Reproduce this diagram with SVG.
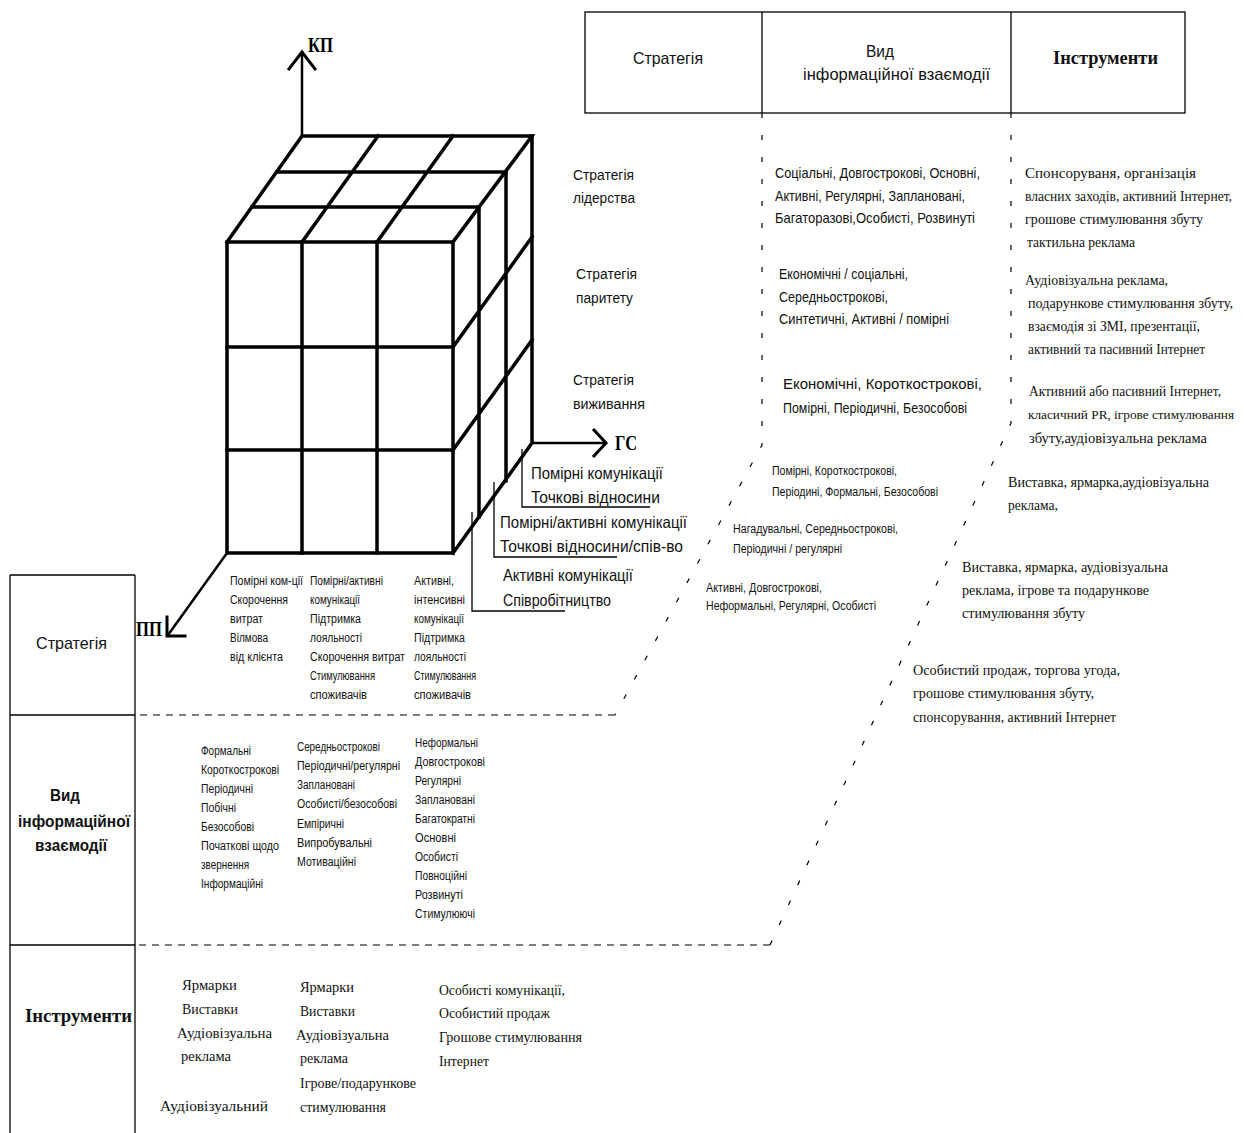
<svg xmlns="http://www.w3.org/2000/svg" width="1244" height="1133" viewBox="0 0 1244 1133">
<style>
.bg{fill:#fff}
.cube{stroke:#000;stroke-width:3.5;fill:none;stroke-linecap:square;stroke-linejoin:miter}
.axis{stroke:#000;stroke-width:2.5;fill:none}
.arr{stroke:#000;stroke-width:3;fill:none;stroke-linecap:square}
.br{stroke:#000;stroke-width:1.3;fill:none}
.tbl{stroke:#000;stroke-width:1.3;fill:none}
.dh{stroke:#000;stroke-width:1.2;fill:none;stroke-dasharray:7 6}
.ds{stroke:#000;stroke-width:1.2;fill:none;stroke-dasharray:5 17}
.sn{font-family:"Liberation Sans",Arial,sans-serif;fill:#111}
.sr{font-family:"Liberation Serif","Times New Roman",serif;fill:#111}
.ax{font-family:"Liberation Serif","Times New Roman",serif;font-weight:bold;fill:#000;font-size:20px}
.s15{font-size:15.5px}
.s14{font-size:14.5px}
.s12{font-size:12.5px}
.s11{font-size:12px}
.s16{font-size:16.5px}
.r14{font-size:14.5px}
</style>
<rect class="bg" width="1244" height="1133"/>

<g id="header">
<rect class="tbl" x="585" y="12" width="600" height="101"/>
<line class="tbl" x1="762" y1="12" x2="762" y2="113"/>
<line class="tbl" x1="1011" y1="12" x2="1011" y2="113"/>
<text class="sn" x="633" y="64" font-size="17" textLength="70" lengthAdjust="spacingAndGlyphs">Стратегія</text>
<text class="sn" x="866" y="57" font-size="17" textLength="28" lengthAdjust="spacingAndGlyphs">Вид</text>
<text class="sn" x="803" y="80" font-size="17" textLength="187" lengthAdjust="spacingAndGlyphs">інформаційної взаємодії</text>
<text class="sr" x="1053" y="64" font-size="19" font-weight="bold" textLength="105" lengthAdjust="spacingAndGlyphs">Інструменти</text>
</g>

<g id="left-table">
<line class="tbl" x1="10" y1="575" x2="10" y2="1133"/>
<line class="tbl" x1="135" y1="575" x2="135" y2="1133"/>
<line class="tbl" x1="10" y1="575" x2="135" y2="575"/>
<line class="tbl" x1="10" y1="715" x2="135" y2="715"/>
<line class="tbl" x1="10" y1="945" x2="135" y2="945"/>
<text class="sn" x="36" y="649" font-size="17" textLength="71" lengthAdjust="spacingAndGlyphs">Стратегія</text>
<text class="sn" x="50" y="801" font-size="17" font-weight="bold" textLength="30" lengthAdjust="spacingAndGlyphs">Вид</text>
<text class="sn" x="18" y="827" font-size="17" font-weight="bold" textLength="112" lengthAdjust="spacingAndGlyphs">інформаційної</text>
<text class="sn" x="35" y="851" font-size="17" font-weight="bold" textLength="72" lengthAdjust="spacingAndGlyphs">взаємодії</text>
<text class="sr" x="25" y="1022" font-size="19" font-weight="bold" textLength="107" lengthAdjust="spacingAndGlyphs">Інструменти</text>
</g>

<g id="connectors">
<path class="ds" d="M762,113 V445 L615,715"/>
<path class="dh" d="M615,715 H135"/>
<path class="ds" d="M1011,113 V423 L770,945"/>
<path class="dh" d="M770,945 H135"/>
</g>

<g id="cube">
<path class="cube" d="M227,242 H453 V553 H227 Z"/>
<path class="cube" d="M302,242 V553 M377,242 V553 M227,347 H453 M227,450 H453"/>
<path class="cube" d="M227,242 L302,136 H532 L453,242"/>
<path class="cube" d="M252,207 H479 M277,172 H506 M302,242 L378,136 M377,242 L453,136"/>
<path class="cube" d="M532,136 V443 L453,553"/>
<path class="cube" d="M479,207 V517 M506,172 V481 M453,347 L532,237 M453,450 L532,340"/>
</g>

<g id="axes">
<line class="axis" x1="302" y1="136" x2="302" y2="52"/>
<path class="arr" d="M289,69 L302,52 L315,69"/>
<text class="ax" x="308" y="52" textLength="25" lengthAdjust="spacingAndGlyphs">КП</text>
<line class="axis" x1="532" y1="443" x2="605" y2="443"/>
<path class="arr" d="M594,430 L606,443 L594,456"/>
<text class="ax" x="615" y="450" textLength="22" lengthAdjust="spacingAndGlyphs">ГС</text>
<line class="axis" x1="227" y1="553" x2="168" y2="635"/>
<path class="arr" d="M167,617 V636 H185"/>
<text class="ax" x="136" y="636" textLength="26" lengthAdjust="spacingAndGlyphs">ПП</text>
</g>

<g id="cube-brackets">
<path class="br" d="M522,449 V507 H650"/>
<path class="br" d="M494,482 V557 H617"/>
<path class="br" d="M472,512 V611 H565"/>
<text class="sn s16" x="531" y="479" textLength="132" lengthAdjust="spacingAndGlyphs">Помірні комунікації</text>
<text class="sn s16" x="531" y="503" textLength="129" lengthAdjust="spacingAndGlyphs">Точкові  відносини</text>
<text class="sn s16" x="500" y="528" textLength="187" lengthAdjust="spacingAndGlyphs">Помірні/активні комунікації</text>
<text class="sn s16" x="500" y="552" textLength="183" lengthAdjust="spacingAndGlyphs">Точкові відносини/спів-во</text>
<text class="sn s16" x="503" y="581" textLength="130" lengthAdjust="spacingAndGlyphs">Активні комунікації</text>
<text class="sn s16" x="503" y="606" textLength="108" lengthAdjust="spacingAndGlyphs">Співробітництво</text>
</g>

<g id="strategy-labels">
<text class="sn s15" x="573" y="180" textLength="61" lengthAdjust="spacingAndGlyphs">Стратегія</text>
<text class="sn s15" x="573" y="203" textLength="62" lengthAdjust="spacingAndGlyphs">лідерства</text>
<text class="sn s15" x="576" y="279" textLength="61" lengthAdjust="spacingAndGlyphs">Стратегія</text>
<text class="sn s15" x="576" y="303" textLength="57" lengthAdjust="spacingAndGlyphs">паритету</text>
<text class="sn s15" x="573" y="385" textLength="61" lengthAdjust="spacingAndGlyphs">Стратегія</text>
<text class="sn s15" x="573" y="409" textLength="72" lengthAdjust="spacingAndGlyphs">виживання</text>
</g>

<g id="interaction-types">
<text class="sn s14" x="775" y="178" textLength="205" lengthAdjust="spacingAndGlyphs">Соціальні, Довгострокові, Основні,</text>
<text class="sn s14" x="775" y="201" textLength="190" lengthAdjust="spacingAndGlyphs">Активні, Регулярні, Заплановані,</text>
<text class="sn s14" x="775" y="223" textLength="200" lengthAdjust="spacingAndGlyphs">Багаторазові,Особисті, Розвинуті</text>
<text class="sn s14" x="779" y="279" textLength="129" lengthAdjust="spacingAndGlyphs">Економічні / соціальні,</text>
<text class="sn s14" x="779" y="302" textLength="109" lengthAdjust="spacingAndGlyphs">Середньострокові,</text>
<text class="sn s14" x="779" y="324" textLength="170" lengthAdjust="spacingAndGlyphs">Синтетичні, Активні / помірні</text>
<text class="sn s14" x="783" y="389" textLength="199" lengthAdjust="spacingAndGlyphs">Економічні, Короткострокові,</text>
<text class="sn s14" x="783" y="413" textLength="184" lengthAdjust="spacingAndGlyphs">Помірні, Періодичні, Безособові</text>
<text class="sn s12" x="772" y="475" textLength="125" lengthAdjust="spacingAndGlyphs">Помірні, Короткострокові,</text>
<text class="sn s12" x="772" y="496" textLength="166" lengthAdjust="spacingAndGlyphs">Періодині, Формальні, Безособові</text>
<text class="sn s12" x="733" y="533" textLength="165" lengthAdjust="spacingAndGlyphs">Нагадувальні, Середньострокові,</text>
<text class="sn s12" x="733" y="553" textLength="109" lengthAdjust="spacingAndGlyphs">Періодичні / регулярні</text>
<text class="sn s12" x="706" y="592" textLength="116" lengthAdjust="spacingAndGlyphs">Активні, Довгострокові,</text>
<text class="sn s12" x="706" y="610" textLength="170" lengthAdjust="spacingAndGlyphs">Неформальні, Регулярні, Особисті</text>
</g>

<g id="instruments-right">
<text class="sr r14" x="1025" y="178" textLength="171" lengthAdjust="spacingAndGlyphs">Спонсоруваня, організація</text>
<text class="sr r14" x="1025" y="201" textLength="207" lengthAdjust="spacingAndGlyphs">власних заходів, активний Інтернет,</text>
<text class="sr r14" x="1025" y="224" textLength="178" lengthAdjust="spacingAndGlyphs">грошове стимулювання збуту</text>
<text class="sr r14" x="1027" y="247" textLength="108" lengthAdjust="spacingAndGlyphs">тактильна реклама</text>
<text class="sr" x="1025" y="285" font-size="15.5" textLength="143" lengthAdjust="spacingAndGlyphs">Аудіовізуальна реклама,</text>
<text class="sr r14" x="1028" y="308" textLength="205" lengthAdjust="spacingAndGlyphs">подарункове стимулювання збуту,</text>
<text class="sr r14" x="1028" y="331" textLength="172" lengthAdjust="spacingAndGlyphs">взаємодія зі ЗМІ, презентації,</text>
<text class="sr r14" x="1028" y="354" textLength="177" lengthAdjust="spacingAndGlyphs">активний та пасивний Інтернет</text>
<text class="sr r14" x="1029" y="396" textLength="192" lengthAdjust="spacingAndGlyphs">Активний або пасивний Інтернет,</text>
<text class="sr" x="1028" y="419" font-size="13.2" textLength="206" lengthAdjust="spacingAndGlyphs">класичний PR, ігрове стимулювання</text>
<text class="sr r14" x="1029" y="443" textLength="178" lengthAdjust="spacingAndGlyphs">збуту,аудіовізуальна реклама</text>
<text class="sr r14" x="1008" y="487" textLength="201" lengthAdjust="spacingAndGlyphs">Виставка, ярмарка,аудіовізуальна</text>
<text class="sr r14" x="1008" y="510" textLength="50" lengthAdjust="spacingAndGlyphs">реклама,</text>
<text class="sr r14" x="962" y="572" textLength="206" lengthAdjust="spacingAndGlyphs">Виставка, ярмарка, аудіовізуальна</text>
<text class="sr r14" x="962" y="595" textLength="187" lengthAdjust="spacingAndGlyphs">реклама, ігрове та подарункове</text>
<text class="sr r14" x="962" y="618" textLength="123" lengthAdjust="spacingAndGlyphs">стимулювання збуту</text>
<text class="sr r14" x="913" y="675" textLength="207" lengthAdjust="spacingAndGlyphs">Особистий продаж, торгова угода,</text>
<text class="sr r14" x="913" y="698" textLength="181" lengthAdjust="spacingAndGlyphs">грошове стимулювання збуту,</text>
<text class="sr r14" x="913" y="722" textLength="203" lengthAdjust="spacingAndGlyphs">спонсорування, активний Інтернет</text>
</g>

<g id="strategy-row">
<text class="sn s11" x="230" y="585" textLength="73" lengthAdjust="spacingAndGlyphs">Помірні ком-ції</text>
<text class="sn s11" x="230" y="604" textLength="58" lengthAdjust="spacingAndGlyphs">Скорочення</text>
<text class="sn s11" x="230" y="623" textLength="33" lengthAdjust="spacingAndGlyphs">витрат</text>
<text class="sn s11" x="230" y="642" textLength="38" lengthAdjust="spacingAndGlyphs">Вілмова</text>
<text class="sn s11" x="230" y="661" textLength="53" lengthAdjust="spacingAndGlyphs">від клієнта</text>
<text class="sn s11" x="310" y="585" textLength="73" lengthAdjust="spacingAndGlyphs">Помірні/активні</text>
<text class="sn s11" x="310" y="604" textLength="50" lengthAdjust="spacingAndGlyphs">комунікації</text>
<text class="sn s11" x="310" y="623" textLength="51" lengthAdjust="spacingAndGlyphs">Підтримка</text>
<text class="sn s11" x="310" y="642" textLength="52" lengthAdjust="spacingAndGlyphs">лояльності</text>
<text class="sn s11" x="310" y="661" textLength="95" lengthAdjust="spacingAndGlyphs">Скорочення витрат</text>
<text class="sn s11" x="310" y="680" textLength="65" lengthAdjust="spacingAndGlyphs">Стимулювання</text>
<text class="sn s11" x="310" y="699" textLength="57" lengthAdjust="spacingAndGlyphs">споживачів</text>
<text class="sn s11" x="414" y="585" textLength="40" lengthAdjust="spacingAndGlyphs">Активні,</text>
<text class="sn s11" x="414" y="604" textLength="51" lengthAdjust="spacingAndGlyphs">інтенсивні</text>
<text class="sn s11" x="414" y="623" textLength="50" lengthAdjust="spacingAndGlyphs">комунікації</text>
<text class="sn s11" x="414" y="642" textLength="51" lengthAdjust="spacingAndGlyphs">Підтримка</text>
<text class="sn s11" x="414" y="661" textLength="52" lengthAdjust="spacingAndGlyphs">лояльності</text>
<text class="sn s11" x="414" y="680" textLength="62" lengthAdjust="spacingAndGlyphs">Стимулювання</text>
<text class="sn s11" x="414" y="699" textLength="57" lengthAdjust="spacingAndGlyphs">споживачів</text>
</g>

<g id="interaction-row">
<text class="sn s11" x="201" y="755" textLength="50" lengthAdjust="spacingAndGlyphs">Формальні</text>
<text class="sn s11" x="201" y="774" textLength="78" lengthAdjust="spacingAndGlyphs">Короткострокові</text>
<text class="sn s11" x="201" y="793" textLength="52" lengthAdjust="spacingAndGlyphs">Періодичні</text>
<text class="sn s11" x="201" y="812" textLength="35" lengthAdjust="spacingAndGlyphs">Побічні</text>
<text class="sn s11" x="201" y="831" textLength="53" lengthAdjust="spacingAndGlyphs">Безособові</text>
<text class="sn s11" x="201" y="850" textLength="78" lengthAdjust="spacingAndGlyphs">Початкові щодо</text>
<text class="sn s11" x="201" y="869" textLength="48" lengthAdjust="spacingAndGlyphs">звернення</text>
<text class="sn s11" x="201" y="888" textLength="62" lengthAdjust="spacingAndGlyphs">Інформаційні</text>
<text class="sn s11" x="297" y="751" textLength="83" lengthAdjust="spacingAndGlyphs">Середньострокові</text>
<text class="sn s11" x="297" y="770" textLength="103" lengthAdjust="spacingAndGlyphs">Періодичні/регулярні</text>
<text class="sn s11" x="297" y="789" textLength="58" lengthAdjust="spacingAndGlyphs">Заплановані</text>
<text class="sn s11" x="297" y="808" textLength="100" lengthAdjust="spacingAndGlyphs">Особисті/безособові</text>
<text class="sn s11" x="297" y="828" textLength="47" lengthAdjust="spacingAndGlyphs">Емпіричні</text>
<text class="sn s11" x="297" y="847" textLength="75" lengthAdjust="spacingAndGlyphs">Випробувальні</text>
<text class="sn s11" x="297" y="866" textLength="59" lengthAdjust="spacingAndGlyphs">Мотиваційні</text>
<text class="sn s11" x="415" y="747" textLength="63" lengthAdjust="spacingAndGlyphs">Неформальні</text>
<text class="sn s11" x="415" y="766" textLength="70" lengthAdjust="spacingAndGlyphs">Довгострокові</text>
<text class="sn s11" x="415" y="785" textLength="46" lengthAdjust="spacingAndGlyphs">Регулярні</text>
<text class="sn s11" x="415" y="804" textLength="60" lengthAdjust="spacingAndGlyphs">Заплановані</text>
<text class="sn s11" x="415" y="823" textLength="60" lengthAdjust="spacingAndGlyphs">Багатократні</text>
<text class="sn s11" x="415" y="842" textLength="41" lengthAdjust="spacingAndGlyphs">Основні</text>
<text class="sn s11" x="415" y="861" textLength="43" lengthAdjust="spacingAndGlyphs">Особисті</text>
<text class="sn s11" x="415" y="880" textLength="52" lengthAdjust="spacingAndGlyphs">Повноційні</text>
<text class="sn s11" x="415" y="899" textLength="48" lengthAdjust="spacingAndGlyphs">Розвинуті</text>
<text class="sn s11" x="415" y="918" textLength="60" lengthAdjust="spacingAndGlyphs">Стимулюючі</text>
</g>

<g id="instruments-row">
<text class="sr r14" x="182" y="990" textLength="55" lengthAdjust="spacingAndGlyphs">Ярмарки</text>
<text class="sr r14" x="182" y="1014" textLength="56" lengthAdjust="spacingAndGlyphs">Виставки</text>
<text class="sr r14" x="177" y="1038" textLength="95" lengthAdjust="spacingAndGlyphs">Аудіовізуальна</text>
<text class="sr r14" x="181" y="1061" textLength="50" lengthAdjust="spacingAndGlyphs">реклама</text>
<text class="sr r14" x="160" y="1111" textLength="108" lengthAdjust="spacingAndGlyphs">Аудіовізуальний</text>
<text class="sr r14" x="300" y="992" textLength="54" lengthAdjust="spacingAndGlyphs">Ярмарки</text>
<text class="sr r14" x="300" y="1016" textLength="55" lengthAdjust="spacingAndGlyphs">Виставки</text>
<text class="sr r14" x="296" y="1040" textLength="93" lengthAdjust="spacingAndGlyphs">Аудіовізуальна</text>
<text class="sr r14" x="300" y="1063" textLength="48" lengthAdjust="spacingAndGlyphs">реклама</text>
<text class="sr r14" x="300" y="1088" textLength="116" lengthAdjust="spacingAndGlyphs">Ігрове/подарункове</text>
<text class="sr r14" x="300" y="1112" textLength="86" lengthAdjust="spacingAndGlyphs">стимулювання</text>
<text class="sr r14" x="439" y="995" textLength="126" lengthAdjust="spacingAndGlyphs">Особисті комунікації,</text>
<text class="sr r14" x="439" y="1018" textLength="111" lengthAdjust="spacingAndGlyphs">Особистий продаж</text>
<text class="sr r14" x="439" y="1042" textLength="143" lengthAdjust="spacingAndGlyphs">Грошове стимулювання</text>
<text class="sr r14" x="439" y="1066" textLength="50" lengthAdjust="spacingAndGlyphs">Інтернет</text>
</g>
</svg>
